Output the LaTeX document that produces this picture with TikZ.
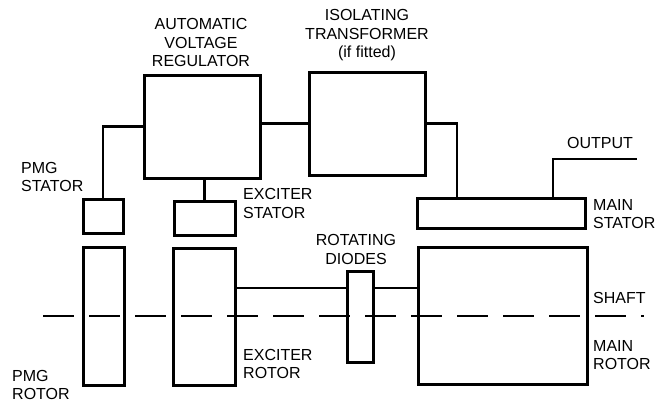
\documentclass[tikz,border=0pt]{standalone}
\usepackage{fontspec}
\setmainfont{Liberation Sans}

\tikzset{
  blk/.style={draw, line width=3pt, inner sep=0pt, outer sep=0pt},
  wire/.style={line width=2.7pt},
  lbl/.style={inner sep=0pt, align=center},
  lbll/.style={inner sep=0pt, align=left, anchor=west}
}

\begin{document}
\begin{tikzpicture}[x=1pt, y=-1pt, font=\fontsize{16}{18.5}\selectfont]
    \useasboundingbox (0,0) rectangle (657,405);
    % control side: regulator and transformer
    \node[blk, minimum width=116pt, minimum height=103pt] (avr) at (202,126.5) {};
    \node[blk, minimum width=116pt, minimum height=103pt] (xfmr) at (367,123.5) {};
    \node[lbl] (avrl) at (201,42.5) {AUTOMATIC\\VOLTAGE\\REGULATOR};
    \node[lbl] (xfmrl) at (367,35.5) {ISOLATING\\TRANSFORMER\\(if fitted)};
    % stators
    \node[blk, minimum width=40pt, minimum height=34pt] (pmgs) at (103,216) {};
    \node[blk, minimum width=61pt, minimum height=34pt] (exs) at (204.5,218) {};
    \node[blk, minimum width=168pt, minimum height=30pt] (ms) at (501,213) {};
    \node[lbll] (pmgsl) at (21,177) {PMG\\STATOR};
    \node[lbll] (exsl) at (243,203.5) {EXCITER\\STATOR};
    \node[lbll] (msl) at (593,214) {MAIN\\STATOR};
    % rotors on the shaft
    \node[blk, minimum width=41pt, minimum height=138pt] (pmgr) at (103.5,316) {};
    \node[blk, minimum width=62pt, minimum height=137pt] (exr) at (204,316.5) {};
    \node[blk, minimum width=26pt, minimum height=91pt] (dio) at (360,316.5) {};
    \node[blk, minimum width=169pt, minimum height=137pt] (mr) at (502.5,315.5) {};
    \node[lbll] (pmgrl) at (12,385) {PMG\\ROTOR};
    \node[lbll] (exrl) at (243,364) {EXCITER\\ROTOR};
    \node[lbl] (diol) at (356,249.5) {ROTATING\\DIODES};
    \node[lbll] (shl) at (593,298) {SHAFT};
    \node[lbll] (mrl) at (593,355) {MAIN\\ROTOR};
    % wiring between the parts
    \draw[wire] (pmgs.north) |- (avr.west);
    \draw[wire] (avr.east |- xfmr.west) -- (xfmr.west);
    \draw[wire] (exs.north) -- (exs.north |- avr.south);
    \draw[wire] (xfmr.east) -| ([xshift=40pt]ms.north west);
    \coordinate (out) at (637,159);
    \node[lbl] (outl) at (600,143) {OUTPUT};
    \draw[wire] ([xshift=136pt]ms.north west) |- (out);
    \coordinate (rl) at ([yshift=28.5pt]exr.east);
    \draw[wire, line width=2.2pt] (rl) -- (rl -| dio.west);
    \draw[wire, line width=2.2pt] (rl -| dio.east) -- (rl -| mr.west);
    % shaft centre line
    \coordinate (shl0) at (43,316);
    \coordinate (shr0) at (644,316);
    \draw[wire, dash pattern=on 30.7pt off 15.3pt] (shl0) -- (shr0);
\end{tikzpicture}
\end{document}
